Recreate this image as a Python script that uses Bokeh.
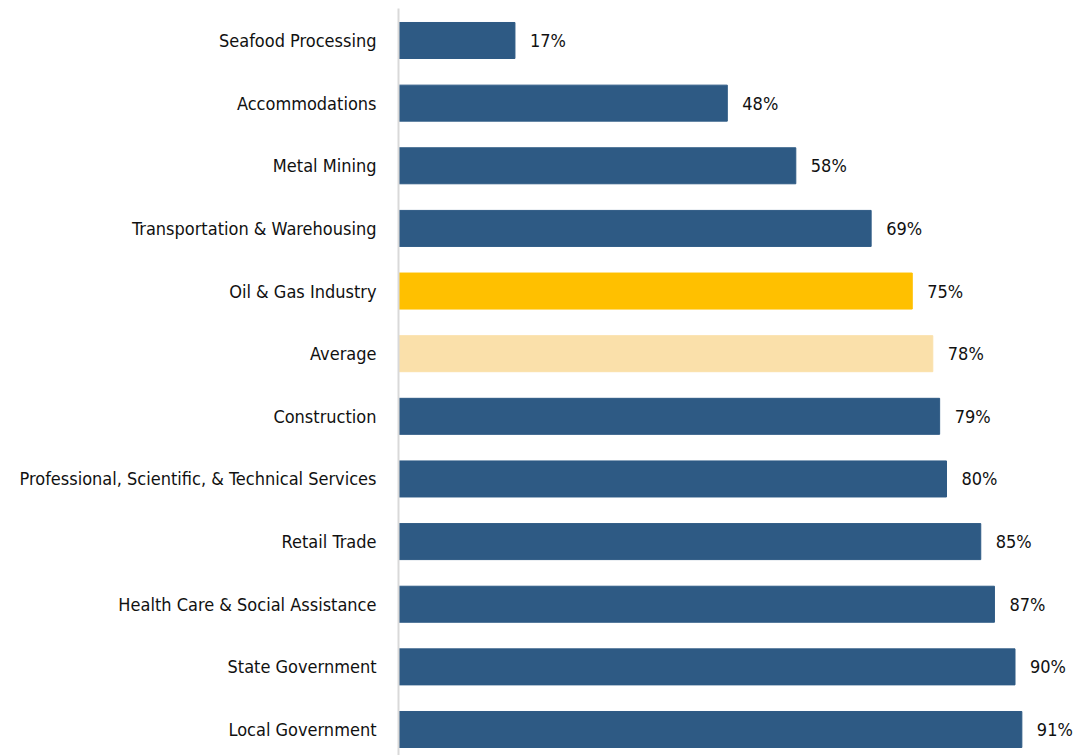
from bokeh.plotting import figure
from bokeh.models import Range1d, FixedTicker, ColumnDataSource
from bokeh.core.properties import value
from bokeh.embed import file_html
from bokeh.resources import INLINE

categories = ["Seafood Processing", "Accommodations", "Metal Mining",
              "Transportation & Warehousing", "Oil & Gas Industry", "Average",
              "Construction", "Professional, Scientific, & Technical Services",
              "Retail Trade", "Health Care & Social Assistance",
              "State Government", "Local Government"]
values = [17, 48, 58, 69, 75, 78, 79, 80, 85, 87, 90, 91]
colors = ["#2E5A84", "#2E5A84", "#2E5A84", "#2E5A84", "#FFC000", "#FAE0AA",
          "#2E5A84", "#2E5A84", "#2E5A84", "#2E5A84", "#2E5A84", "#2E5A84"]
value_labels = [f"{v}%" for v in values]

FONT = "DejaVu Sans Condensed"
ypos = list(range(len(categories)))

src = ColumnDataSource(dict(y=ypos, v=values, c=colors, lab=value_labels, cat=categories))

p = figure(width=1083, height=755, output_backend="svg", toolbar_location=None,
           x_range=Range1d(0, 100), y_range=Range1d(11.415, -0.511),
           min_border_left=398, min_border_top=8, min_border_bottom=0, min_border_right=0)
p.outline_line_color = None
p.xgrid.visible = False
p.ygrid.visible = False
p.xaxis.visible = False

p.hbar(y="y", left=0, right="v", height=0.575, fill_color="c", line_color="c", source=src)
p.text(x="v", y="y", text="lab", source=src, x_offset=15, text_align="left",
       text_baseline="middle", text_font=value(FONT), text_font_size="18px", text_color="#111111")

ax = p.yaxis[0]
ax.ticker = FixedTicker(ticks=ypos)
ax.major_label_overrides = {i: c for i, c in enumerate(categories)}
ax.major_label_text_font = FONT
ax.major_label_text_font_size = "18px"
ax.major_label_text_color = "#111111"
ax.major_label_standoff = 16
ax.major_tick_line_color = None
ax.minor_tick_line_color = None
ax.axis_line_color = "#D9D9D9"
ax.axis_line_width = 2

open("out.html", "w").write(file_html(p, INLINE))
